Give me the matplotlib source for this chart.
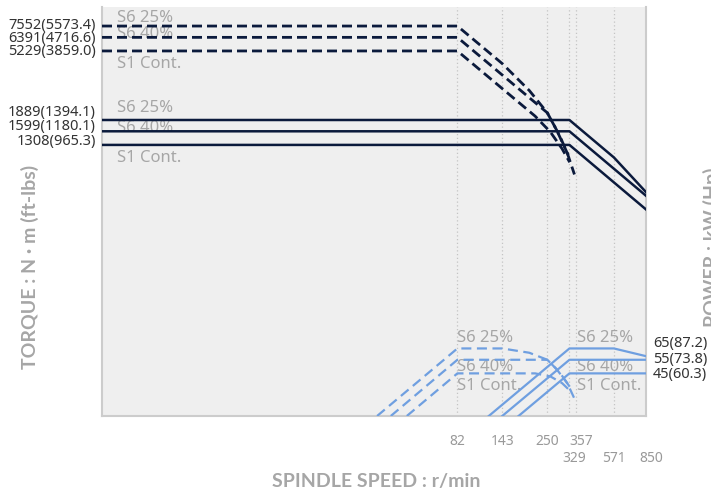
import matplotlib
matplotlib.use("Agg")
import matplotlib.pyplot as plt
from matplotlib.ticker import NullLocator
from matplotlib.transforms import ScaledTranslation

plt.rcParams["font.family"] = ["Noto Sans", "DejaVu Sans"]

# spindle speed (r/min)
tick_row1 = [82, 143, 250, 357]
tick_row2 = [329, 571, 850]

# torque, N·m  -- low gear (dashed)
low_s6_25_rpm = [1, 82, 143, 200, 250, 290, 320, 350]
low_s6_25_nm = [7552, 7552, 4340, 2918, 2101, 1515, 1164, 846]
low_s6_40_rpm = [1, 82, 250, 280, 310, 330]
low_s6_40_nm = [6391, 6391, 2101, 1637, 1263, 1071]
low_s1_rpm = [1, 82, 215, 260, 300, 330]
low_s1_nm = [5229, 5229, 1999, 1580, 1238, 1013]

# torque, N·m -- high gear (solid)
high_s6_25_rpm = [1, 329, 571, 850]
high_s6_25_nm = [1889, 1889, 1087, 652]
high_s6_40_rpm = [1, 329, 850]
high_s6_40_nm = [1599, 1599, 618]
high_s1_rpm = [1, 329, 850]
high_s1_nm = [1308, 1308, 505]

# power, kW -- low gear (dashed)
plow_s6_25_rpm = [30.3, 82, 143, 200, 250, 290, 320, 350]
plow_s6_25_kw = [24, 65, 65, 61, 55, 46, 39, 31]
plow_s6_40_rpm = [35.9, 82, 250, 280, 310, 330]
plow_s6_40_kw = [24, 55, 55, 48, 41, 37]
plow_s1_rpm = [43.8, 82, 215, 260, 300, 330]
plow_s1_kw = [24, 45, 45, 43, 39, 35]

# power, kW -- high gear (solid)
phigh_s6_25_rpm = [121, 329, 571, 850]
phigh_s6_25_kw = [24, 65, 65, 58]
phigh_s6_40_rpm = [143, 329, 850]
phigh_s6_40_kw = [24, 55, 55]
phigh_s1_rpm = [175, 329, 850]
phigh_s1_kw = [24, 45, 45]

torque_labels = ["7552(5573.4)", "6391(4716.6)", "5229(3859.0)",
                 "1889(1394.1)", "1599(1180.1)", "1308(965.3)"]
power_labels = ["65(87.2)", "55(73.8)", "45(60.3)"]
duty_labels = ["S6 25%", "S6 40%", "S1 Cont."]

W, H = 711, 493
NAVY = "#0b1a3c"
BLUE = "#6f9fe0"
GREY_TXT = "#a6a6a6"
TITLE_FONT = ["Lato", "DejaVu Sans"]

fig = plt.figure(figsize=(W / 100, H / 100), dpi=100)
ax = fig.add_axes([102 / W, 1 - 416 / H, 544 / W, 409 / H])
ax.set_facecolor("#efefef")
ax.set_xscale("log")
ax.set_yscale("log")
ax.set_xlim(1, 850)
ax.set_ylim(24, 10000)


def fx(x):
    return x / W


def fy(y):
    return 1 - y / H


# torque curves
dash_t = dict(color=NAVY, lw=2.0, ls=(0, (3.6, 1.8)), zorder=3)
ax.plot(low_s6_25_rpm, low_s6_25_nm, **dash_t)
ax.plot(low_s6_40_rpm, low_s6_40_nm, **dash_t)
ax.plot(low_s1_rpm, low_s1_nm, **dash_t)
solid_t = dict(color=NAVY, lw=1.8, zorder=3)
ax.plot(high_s6_25_rpm, high_s6_25_nm, **solid_t)
ax.plot(high_s6_40_rpm, high_s6_40_nm, **solid_t)
ax.plot(high_s1_rpm, high_s1_nm, **solid_t)

# power curves
dash_p = dict(color=BLUE, lw=1.6, ls=(0, (4.5, 2.5)), zorder=3)
ax.plot(plow_s6_25_rpm, plow_s6_25_kw, **dash_p)
ax.plot(plow_s6_40_rpm, plow_s6_40_kw, **dash_p)
ax.plot(plow_s1_rpm, plow_s1_kw, **dash_p)
solid_p = dict(color=BLUE, lw=1.6, zorder=3)
ax.plot(phigh_s6_25_rpm, phigh_s6_25_kw, **solid_p)
ax.plot(phigh_s6_40_rpm, phigh_s6_40_kw, **solid_p)
ax.plot(phigh_s1_rpm, phigh_s1_kw, **solid_p)

# axes cosmetics
ax.yaxis.set_major_locator(NullLocator())
ax.yaxis.set_minor_locator(NullLocator())
ax.set_xticks(tick_row1, labels=[str(v) for v in tick_row1])
ax.set_xticks(tick_row2, labels=[str(v) for v in tick_row2], minor=True)
ax.tick_params(axis="x", which="major", length=0, pad=13, labelsize=10,
               labelcolor="#999999")
ax.tick_params(axis="x", which="minor", length=0, pad=25, labelsize=10,
               labelcolor="#999999")
# nudge the crowded labels a little to the right, as in the original
nudge = ScaledTranslation(5 / 100, 0, fig.dpi_scale_trans)
for lab in ax.get_xticklabels() + ax.get_xticklabels(minor=True):
    if lab.get_text() in ("357", "329", "850"):
        lab.set_transform(lab.get_transform() + nudge)
ax.grid(axis="x", which="both", ls=(0, (1, 2)), color="#c4c4c4", lw=0.9,
        zorder=1)
ax.set_axisbelow(True)
for side in ["left", "bottom", "right"]:
    ax.spines[side].set_color("#cccccc")
    ax.spines[side].set_linewidth(1.5)
ax.spines["top"].set_visible(False)

# duty labels inside the plot (drawn under the lines)
groups = [(117, [18.5, 33.5, 64]), (117, [108.5, 128.5, 157.5]),
          (457, [338.5, 367, 385.5]), (577, [338.5, 367, 385.5])]
for gx, ys in groups:
    for s, gy in zip(duty_labels, ys):
        ax.text(fx(gx), fy(gy), s, transform=fig.transFigure, fontsize=12,
                color=GREY_TXT, ha="left", va="center", zorder=2)

# value labels outside the plot
for s, gy in zip(torque_labels, [25, 38.5, 52, 112.5, 126.5, 141]):
    fig.text(fx(96), fy(gy), s, fontsize=10.5, color="#333333",
             ha="right", va="center")
for s, gy in zip(power_labels, [344, 360, 374.5]):
    fig.text(fx(653), fy(gy), s, fontsize=10.5, color="#333333",
             ha="left", va="center")

# axis titles
fig.text(fx(376), fy(482), "SPINDLE SPEED : r/min", fontsize=14,
         fontweight="bold", family=TITLE_FONT, color=GREY_TXT,
         ha="center", va="center")
fig.text(fx(30), fy(267), "TORQUE : N \u00b7 m (ft-lbs)", fontsize=14,
         fontweight="bold", family=TITLE_FONT, color=GREY_TXT,
         ha="center", va="center", rotation=90)
fig.text(fx(712), fy(247), "POWER : kW (Hp)", fontsize=14,
         fontweight="bold", family=TITLE_FONT, color=GREY_TXT,
         ha="center", va="center", rotation=90)

fig.savefig("out.png", dpi=100)
